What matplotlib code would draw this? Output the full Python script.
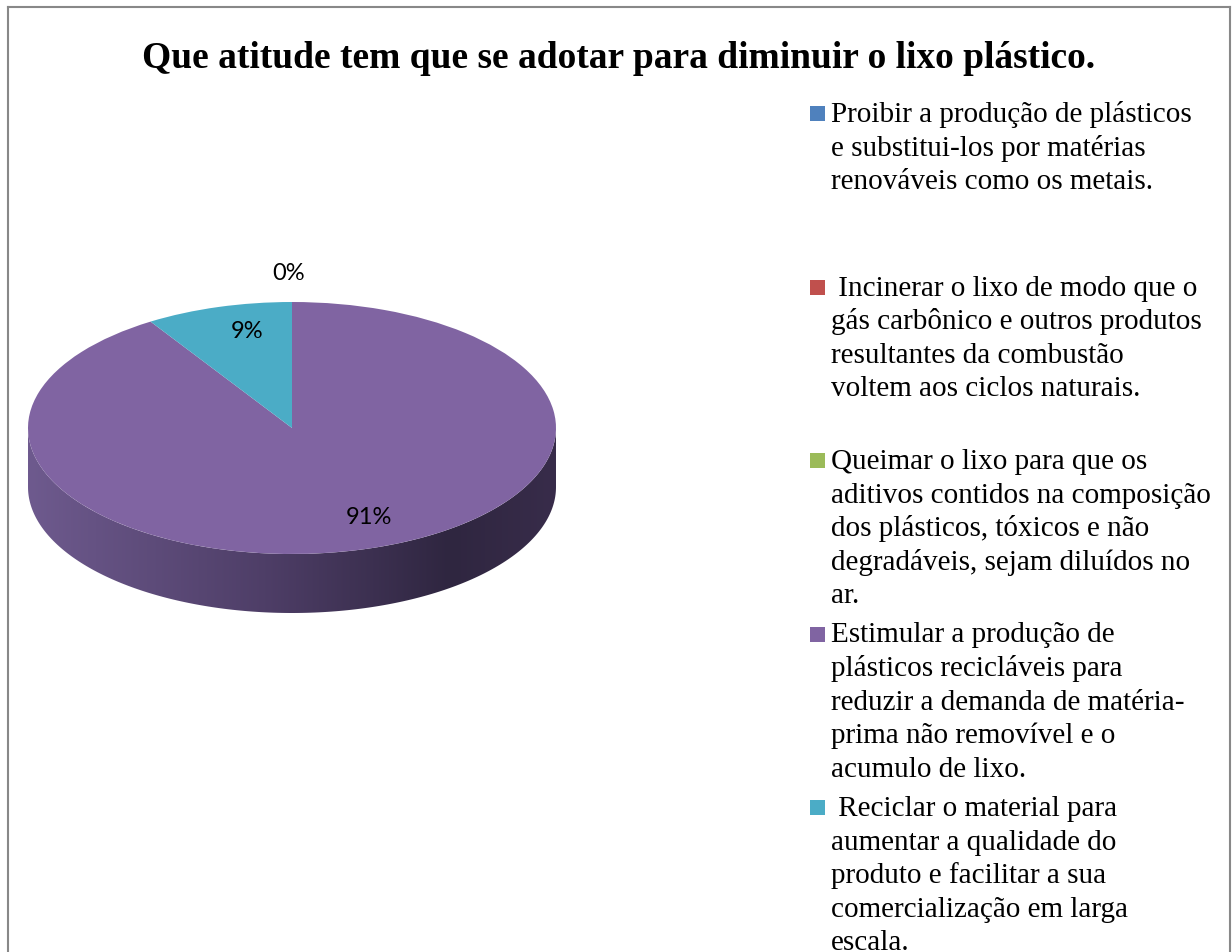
import numpy as np
import matplotlib
matplotlib.use('Agg')
import matplotlib.pyplot as plt
from matplotlib.patches import PathPatch, Rectangle
from matplotlib.path import Path
from matplotlib.colors import LinearSegmentedColormap
from matplotlib.lines import Line2D

W, H = 1232, 952

title = 'Que atitude tem que se adotar para diminuir o lixo plástico.'
categories = [
    'Proibir a produção de plásticos\ne substitui-los por matérias\nrenováveis como os metais.',
    ' Incinerar o lixo de modo que o\ngás carbônico e outros produtos\nresultantes da combustão\nvoltem aos ciclos naturais.',
    'Queimar o lixo para que os\naditivos contidos na composição\ndos plásticos, tóxicos e não\ndegradáveis, sejam diluídos no\nar.',
    'Estimular a produção de\nplásticos recicláveis para\nreduzir a demanda de matéria-\nprima não removível e o\nacumulo de lixo.',
    ' Reciclar o material para\naumentar a qualidade do\nproduto e facilitar a sua\ncomercialização em larga\nescala.',
]
values = [0, 0, 0, 91, 9]
colors = ['#4f81bd', '#c0504d', '#9bbb59', '#8064a2', '#4bacc6']


def fx(px):
    return px / W


def fy(py):
    return 1 - py / H


fig = plt.figure(figsize=(W / 100, H / 100), dpi=100)
fig.patch.set_facecolor('white')

# pie geometry (pixels): top face ellipse + side depth
cx, cy, a, b, depth = 292, 428, 264, 126, 59
d = depth / b
ax = fig.add_axes([fx(cx - a), fy(cy + b + depth), 2 * a / W, (2 * b + depth) / H])
wedges, _ = ax.pie(values, colors=colors, startangle=90, counterclock=False,
                   wedgeprops=dict(linewidth=0))
ax.set_aspect('auto')
ax.axis('off')

# side of the 3-D pie: only the front half of the rim is visible
side_cmap = LinearSegmentedColormap.from_list(
    'side', [(0, '#6e5a8e'), (0.45, '#4e3e67'), (0.8, '#2f2640'), (1, '#382c4a')])
for w in wedges:
    if w.theta2 - w.theta1 <= 0:
        continue
    for k in (-360, 0, 360):
        lo = max(w.theta1, -180 + k)
        hi = min(w.theta2, 0 + k)
        if hi <= lo:
            continue
        t = np.deg2rad(np.linspace(lo, hi, 200))
        top = np.column_stack([np.cos(t), np.sin(t)])
        bot = np.column_stack([np.cos(t[::-1]), np.sin(t[::-1]) - d])
        verts = np.vstack([top, bot, top[:1]])
        codes = [Path.MOVETO] + [Path.LINETO] * (len(verts) - 2) + [Path.CLOSEPOLY]
        patch = PathPatch(Path(verts, codes), facecolor='none', edgecolor='none')
        ax.add_patch(patch)
        grad = np.linspace(0, 1, 256).reshape(1, -1)
        im = ax.imshow(grad, cmap=side_cmap, extent=[-1, 1, -1 - d, 0.05],
                       aspect='auto', zorder=0)
        im.set_clip_path(patch)
for w in wedges:
    w.set_zorder(2)
ax.set_xlim(-1, 1)
ax.set_ylim(-1 - d, 1)

# data labels (placed like Excel's 3-D layout); the zero slices share one spot
label_px = [(289, 273), (289, 273), (289, 273), (369, 518), (247, 331)]
drawn = set()
for v, (lx, ly) in zip(values, label_px):
    if (lx, ly) in drawn:
        continue
    drawn.add((lx, ly))
    fig.text(fx(lx), fy(ly), f'{v}%', ha='center', va='center',
             fontsize=17, family='Lato', color='black')

# title
fig.text(fx(619), fy(68), title, ha='center', va='baseline', fontsize=27,
         fontweight='bold', family='Liberation Serif')

# legend
for i, (lab, col) in enumerate(zip(categories, colors)):
    base = 122 + i * 173.5
    fig.patches.append(Rectangle((fx(810), fy(base - 1)), 15 / W, 15 / H,
                                 transform=fig.transFigure, facecolor=col,
                                 edgecolor='none'))
    for j, line in enumerate(lab.split('\n')):
        fig.text(fx(831), fy(base + j * 33.6), line, ha='left', va='baseline',
                 fontsize=21, family='Liberation Serif')

# chart frame
for xs, ys in [([7.5, 7.5], [H, 6.5]), ([7.5, 1229.5], [6.5, 6.5]),
               ([1229.5, 1229.5], [6.5, H])]:
    fig.lines.append(Line2D([fx(x) for x in xs], [fy(y) for y in ys],
                            transform=fig.transFigure, color='#888888', lw=1.5))

fig.savefig('out.png', dpi=100)
